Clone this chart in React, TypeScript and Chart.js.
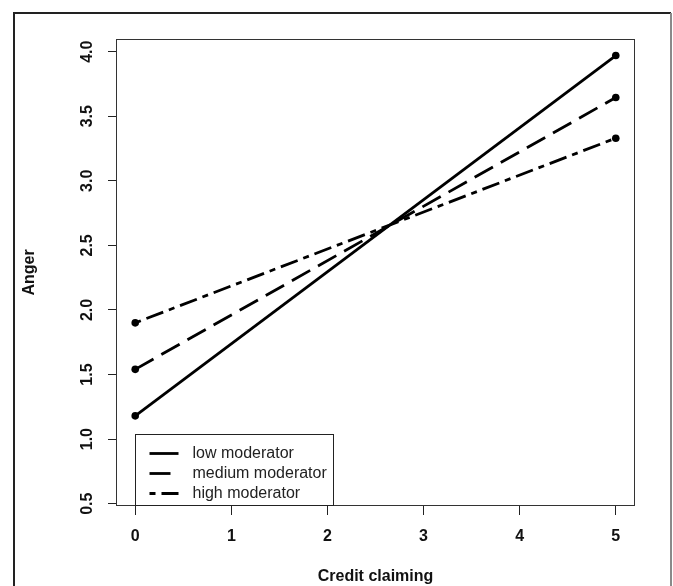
import React, { useEffect, useRef } from "react";
import { Chart, registerables } from "chart.js";

Chart.register(...registerables);

// ---- data ----
const xValues = [0, 5];
const lowModerator = [1.18, 3.97];
const mediumModerator = [1.54, 3.645];
const highModerator = [1.9, 3.33];
const seriesLabels = ["low moderator", "medium moderator", "high moderator"];
const xTicks = [0, 1, 2, 3, 4, 5];
const yTicks = [0.5, 1.0, 1.5, 2.0, 2.5, 3.0, 3.5, 4.0];
const xTitle = "Credit claiming";
const yTitle = "Anger";

const FONT = '"Liberation Sans", Arial, sans-serif';
const LINE_W = 2.8;
const dashes: number[][] = [[], [21, 9], [6, 6, 18, 6]];

const framePlugin = {
  id: "frame",
  beforeDraw(chart: any) {
    const ctx = chart.ctx;
    ctx.save();
    ctx.fillStyle = "#ffffff";
    ctx.fillRect(0, 0, chart.width, chart.height);
    ctx.lineWidth = 2;
    ctx.strokeStyle = "#222222";
    ctx.beginPath();
    ctx.moveTo(14, 600);
    ctx.lineTo(14, 13);
    ctx.lineTo(671, 13);
    ctx.stroke();
    ctx.strokeStyle = "#8a8a8a";
    ctx.beginPath();
    ctx.moveTo(671, 13);
    ctx.lineTo(671, 600);
    ctx.stroke();
    ctx.restore();
  },
  afterDraw(chart: any) {
    const { ctx, chartArea } = chart;
    ctx.save();
    // plot box
    ctx.strokeStyle = "#333333";
    ctx.lineWidth = 1;
    ctx.strokeRect(
      Math.round(chartArea.left) + 0.5,
      Math.round(chartArea.top) + 0.5,
      Math.round(chartArea.right - chartArea.left) - 1,
      Math.round(chartArea.bottom - chartArea.top) - 1
    );
    // rotated y tick labels
    const ys = chart.scales.y;
    ctx.font = "bold 16px " + FONT;
    ctx.fillStyle = "#111111";
    ctx.textAlign = "center";
    ctx.textBaseline = "middle";
    yTicks.forEach((v) => {
      const py = ys.getPixelForValue(v);
      ctx.save();
      ctx.translate(chartArea.left - 28, py);
      ctx.rotate(-Math.PI / 2);
      ctx.fillText(v.toFixed(1), 0, 0);
      ctx.restore();
    });
    // legend
    const xs = chart.scales.x;
    const left = Math.round(xs.getPixelForValue(0)) + 0.5;
    const bottom = Math.round(chartArea.bottom) - 0.5;
    const w = 198;
    const h = 71;
    const top = bottom - h;
    ctx.fillStyle = "#ffffff";
    ctx.fillRect(left, top, w, h);
    ctx.strokeStyle = "#222222";
    ctx.lineWidth = 1;
    ctx.strokeRect(left, top, w, h);
    chart.data.datasets.forEach((ds: any, i: number) => {
      const y = top + 19 + i * 20;
      ctx.save();
      ctx.strokeStyle = "#000000";
      ctx.lineWidth = LINE_W;
      ctx.setLineDash(ds.borderDash || []);
      ctx.beginPath();
      ctx.moveTo(left + 14, y);
      ctx.lineTo(left + 43, y);
      ctx.stroke();
      ctx.restore();
      ctx.font = "16px " + FONT;
      ctx.fillStyle = "#222222";
      ctx.textAlign = "left";
      ctx.textBaseline = "middle";
      ctx.fillText(ds.label, left + 57, y);
    });
    ctx.restore();
  },
};

export default function App() {
  const canvasRef = useRef<HTMLCanvasElement | null>(null);

  useEffect(() => {
    if (!canvasRef.current) return;
    const series = [lowModerator, mediumModerator, highModerator];
    const chart = new Chart(canvasRef.current, {
      type: "scatter",
      data: {
        datasets: series.map((vals, i) => ({
          label: seriesLabels[i],
          data: xValues.map((x, j) => ({ x, y: vals[j] })),
          showLine: true,
          borderColor: "#000000",
          borderWidth: LINE_W,
          borderDash: dashes[i],
          pointRadius: 3.8,
          pointBackgroundColor: "#000000",
          pointBorderColor: "#000000",
          pointBorderWidth: 0,
          fill: false,
        })),
      },
      options: {
        animation: false,
        responsive: false,
        devicePixelRatio: 1,
        layout: { padding: { top: 39, right: 38, left: 0, bottom: 0 } },
        plugins: {
          legend: { display: false },
          tooltip: { enabled: false },
        },
        scales: {
          x: {
            type: "linear",
            min: -0.2,
            max: 5.2,
            afterBuildTicks: (s: any) => {
              s.ticks = xTicks.map((v) => ({ value: v }));
            },
            afterFit: (s: any) => {
              s.height = 80;
            },
            grid: {
              display: true,
              drawOnChartArea: false,
              drawTicks: true,
              tickLength: 9,
              color: "#222222",
              lineWidth: 1,
            },
            border: { display: false },
            ticks: {
              autoSkip: false,
              maxRotation: 0,
              minRotation: 0,
              padding: 12,
              color: "#111111",
              font: { family: FONT, size: 16, weight: "bold" },
              callback: (v: any) => String(v),
            },
            title: {
              display: true,
              text: xTitle,
              color: "#111111",
              font: { family: FONT, size: 16, weight: "bold" },
              padding: { top: 0, bottom: 0 },
            },
          },
          y: {
            type: "linear",
            min: 0.482,
            max: 4.098,
            afterBuildTicks: (s: any) => {
              s.ticks = yTicks.map((v) => ({ value: v }));
            },
            afterFit: (s: any) => {
              s.width = 116;
            },
            grid: {
              display: true,
              drawOnChartArea: false,
              drawTicks: true,
              tickLength: 8,
              color: "#222222",
              lineWidth: 1,
            },
            border: { display: false },
            ticks: { display: false },
            title: {
              display: true,
              text: yTitle,
              color: "#111111",
              font: { family: FONT, size: 16, weight: "bold" },
              padding: { top: 20, bottom: 0 },
            },
          },
        },
      } as any,
      plugins: [framePlugin],
    });
    return () => chart.destroy();
  }, []);

  return (
    <div style={{ position: "absolute", left: 0, top: 0, width: 673, height: 586, background: "#fff" }}>
      <canvas ref={canvasRef} width={673} height={586} style={{ display: "block" }} />
    </div>
  );
}
